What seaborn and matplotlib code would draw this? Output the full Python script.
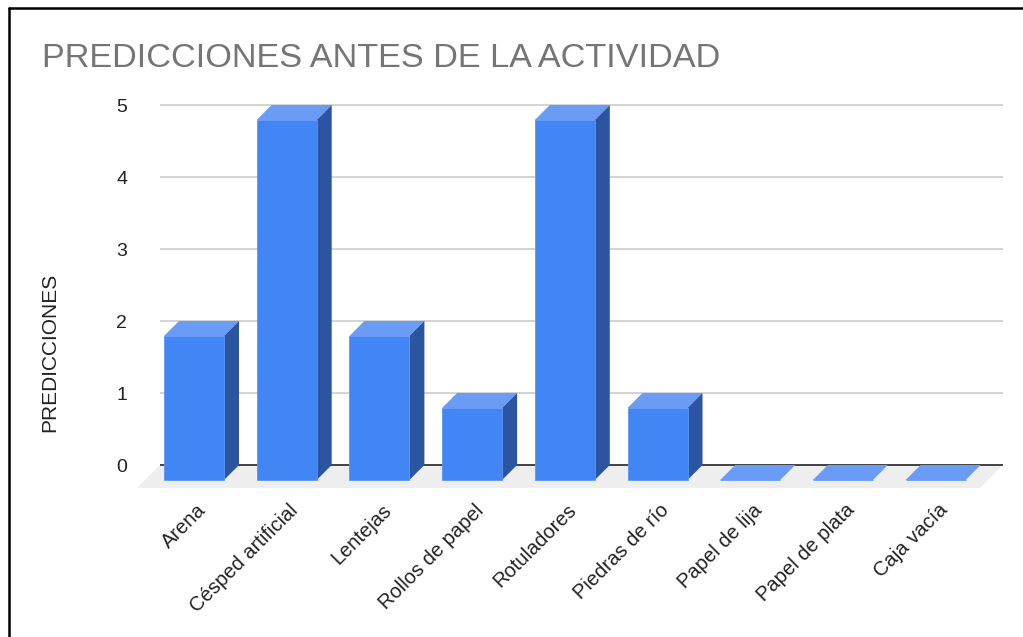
import matplotlib
matplotlib.use("Agg")
import matplotlib.pyplot as plt
from matplotlib.patches import Polygon
from matplotlib.lines import Line2D
from matplotlib.transforms import ScaledTranslation
import seaborn as sns
import pandas as pd
import numpy as np

# datos
categorias = ["Arena", "Césped artificial", "Lentejas", "Rollos de papel",
              "Rotuladores", "Piedras de río", "Papel de lija",
              "Papel de plata", "Caja vacía"]
predicciones = [2, 5, 2, 1, 5, 1, 0, 0, 0]
ticks_y = [0, 1, 2, 3, 4, 5]

AZUL = "#4285F4"
AZUL_TOP = "#6A9CF6"
AZUL_LADO = "#2B55A0"

sns.set_theme(style="white")
plt.rcParams["font.family"] = ["Liberation Sans", "DejaVu Sans"]

W, H, DPI = 1023, 637, 100
fig = plt.figure(figsize=(W / DPI, H / DPI), dpi=DPI)

# ejes colocados en pixeles: x de 130 a 1010, y de 95 a 495 (desde arriba)
ax_l, ax_r, ax_t, ax_b = 130, 1010, 95, 495
ax = fig.add_axes([ax_l / W, 1 - ax_b / H, (ax_r - ax_l) / W, (ax_b - ax_t) / H])

px_x = 92.7   # pixeles por categoria
px_y = 72.0   # pixeles por unidad
x0_px, y0_px = 209, 465
ax.set_xlim((ax_l - x0_px) / px_x, (ax_r - x0_px) / px_x)
ax.set_ylim(-(ax_b - y0_px) / px_y, 5 + (105 - ax_t) / px_y)

prof = 15
dx, dy = prof / px_x, prof / px_y
ancho = 60 / px_x

# suelo y lineas de fondo
xl, xr = (160 - x0_px) / px_x, (1003 - x0_px) / px_x
fdx, fdy = 23 / px_x, 23 / px_y
ax.add_patch(Polygon([(xl, 0), (xr, 0), (xr - fdx, -fdy), (xl - fdx, -fdy)],
                     closed=True, facecolor="#EEEEEE", edgecolor="none", zorder=0))
ax.hlines(ticks_y[1:], xl, xr, color="#CCCCCC", lw=1.2, zorder=0.5)
ax.hlines(0, xl, xr, color="#333333", lw=1.3, zorder=0.6)

df = pd.DataFrame({"cat": categorias, "val": predicciones})
sns.barplot(data=df, x="cat", y="val", color=AZUL, saturation=1, width=ancho,
            ax=ax, zorder=3, edgecolor="#5C96F6", linewidth=0.6)
ax.set_xlim((ax_l - x0_px) / px_x, (ax_r - x0_px) / px_x)

desplaza = ax.transData + ScaledTranslation(-prof / DPI, -prof / DPI, fig.dpi_scale_trans)
for p in list(ax.patches):
    if p.get_zorder() != 3:
        continue
    x0 = p.get_x()
    x1 = x0 + p.get_width()
    v = p.get_height()
    p.set_transform(desplaza)
    # cara superior
    ax.add_patch(Polygon([(x0 - dx, v - dy), (x1 - dx, v - dy), (x1, v), (x0, v)],
                         closed=True, facecolor=AZUL_TOP, edgecolor="none", zorder=2))
    # cara lateral
    if v > 0:
        ax.add_patch(Polygon([(x1 - dx, -dy), (x1, 0), (x1, v), (x1 - dx, v - dy)],
                             closed=True, facecolor=AZUL_LADO, edgecolor="none", zorder=2))

for s in ax.spines.values():
    s.set_visible(False)
ax.set_yticks(ticks_y)
ax.set_yticklabels([str(t) for t in ticks_y])
ax.tick_params(axis="y", length=0, pad=2, labelsize=14, labelcolor="#222222")
ax.set_xticks(np.arange(len(categorias)) - 13 / px_x)
ax.set_xticklabels(categorias, rotation=45, ha="right", rotation_mode="anchor")
ax.tick_params(axis="x", length=0, pad=4, labelsize=14.5, labelcolor="#222222")
ax.set_xlabel("")
ax.set_ylabel("")
ax.grid(False)

fig.text(42 / W, 1 - 67 / H, "PREDICCIONES ANTES DE LA ACTIVIDAD",
         fontsize=24.7, color="#757575", ha="left", va="baseline")
fig.text(50 / W, 1 - 352 / H, "PREDICCIONES", rotation=90, fontsize=15,
         color="#222222", ha="center", va="center")

# marco negro arriba y a la izquierda
fig.add_artist(Line2D([9 / W, 1], [1 - 8 / H, 1 - 8 / H], color="black", lw=1.8,
                      transform=fig.transFigure))
fig.add_artist(Line2D([9 / W, 9 / W], [0, 1 - 8 / H], color="black", lw=1.8,
                      transform=fig.transFigure))

fig.savefig("out.png", dpi=DPI)
